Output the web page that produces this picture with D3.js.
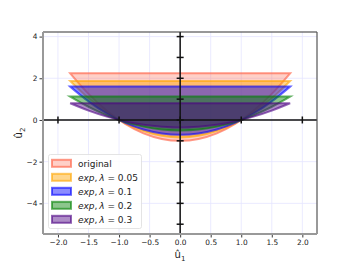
<!DOCTYPE html>
<html>
<head>
<meta charset="utf-8">
<script src="https://cdn.jsdelivr.net/npm/d3@7"></script>
<style>
  body { margin: 0; background: #fff; }
  text { font-family: 'DejaVu Sans', sans-serif; }
</style>
</head>
<body>
<div id="chart"></div>
<script>
// sample positions along u1
const u1 = [-1.8, -1.5, -1.2, -0.9, -0.6, -0.3, 0, 0.3, 0.6, 0.9, 1.2, 1.5, 1.8]

// lower boundary of each region, u2 at the u1 positions above
const original = [2.24, 1.25, 0.44, -0.19, -0.64, -0.91, -1.0, -0.91, -0.64, -0.19, 0.44, 1.25, 2.24]
const exp005 = [1.87, 1.04, 0.37, -0.16, -0.53, -0.76, -0.835, -0.76, -0.53, -0.16, 0.37, 1.04, 1.87]
const exp01 = [1.6, 0.89, 0.31, -0.14, -0.46, -0.65, -0.71, -0.65, -0.46, -0.14, 0.31, 0.89, 1.6]
const exp02 = [1.12, 0.63, 0.22, -0.1, -0.32, -0.46, -0.5, -0.46, -0.32, -0.1, 0.22, 0.63, 1.12]
const exp03 = [0.8, 0.45, 0.16, -0.07, -0.23, -0.32, -0.36, -0.32, -0.23, -0.07, 0.16, 0.45, 0.8]

const lambdas = [null, '0.05', '0.1', '0.2', '0.3']
const xTicks = [-2.0, -1.5, -1.0, -0.5, 0.0, 0.5, 1.0, 1.5, 2.0]
const yTicks = [-4, -2, 0, 2, 4]
const crossX = [-2, -1, 0, 1, 2]
const crossY = [-5, -4, -3, -2, -1, 0, 1, 2, 3, 4]

const series = [
  { values: original, color: 'tomato', alpha: 0.3, edge: 0.65 },
  { values: exp005, color: 'orange', alpha: 0.45, edge: 0.6 },
  { values: exp01, color: 'blue', alpha: 0.45, edge: 0.6 },
  { values: exp02, color: 'green', alpha: 0.45, edge: 0.6 },
  { values: exp03, color: 'indigo', alpha: 0.45, edge: 0.6 },
]

const width = 352
const height = 264
const margin = { top: 32, right: 35, bottom: 30, left: 43 }

const svg = d3.select('#chart').append('svg').attr('width', width).attr('height', height)

const x = d3.scaleLinear().domain([-2.245, 2.24]).range([margin.left, width - margin.right])
const y = d3.scaleLinear().domain([-5.47, 4.22]).range([height - margin.bottom, margin.top])

// grid
svg.append('g')
  .selectAll('line')
  .data(xTicks)
  .join('line')
  .attr('x1', (d) => x(d)).attr('x2', (d) => x(d))
  .attr('y1', margin.top).attr('y2', height - margin.bottom)
  .attr('stroke', '#e4e4ff').attr('stroke-width', 0.8)
svg.append('g')
  .selectAll('line')
  .data(yTicks)
  .join('line')
  .attr('x1', margin.left).attr('x2', width - margin.right)
  .attr('y1', (d) => y(d)).attr('y2', (d) => y(d))
  .attr('stroke', '#e4e4ff').attr('stroke-width', 0.8)

// filled regions
const area = d3.area()
  .x((d) => x(d[0]))
  .y0((d) => y(d[2]))
  .y1((d) => y(d[1]))
  .curve(d3.curveNatural)

series.forEach((s) => {
  const top = d3.max(s.values)
  const pts = u1.map((v, i) => [v, s.values[i], top])
  svg.append('path')
    .datum(pts)
    .attr('d', area)
    .attr('fill', s.color)
    .attr('fill-opacity', s.alpha)
    .attr('stroke', s.color)
    .attr('stroke-opacity', s.edge)
    .attr('stroke-width', 2)
})

// cross through the origin
const cross = svg.append('g').attr('stroke', '#111').attr('stroke-width', 1.5)
cross.append('line')
  .attr('x1', margin.left).attr('x2', width - margin.right)
  .attr('y1', y(0)).attr('y2', y(0))
cross.append('line')
  .attr('x1', x(0)).attr('x2', x(0))
  .attr('y1', margin.top).attr('y2', height - margin.bottom)
cross.selectAll('.cx')
  .data(crossX)
  .join('line')
  .attr('x1', (d) => x(d)).attr('x2', (d) => x(d))
  .attr('y1', y(0) - 3.5).attr('y2', y(0) + 3.5)
cross.selectAll('.cy')
  .data(crossY)
  .join('line')
  .attr('class', 'cy')
  .attr('x1', x(0) - 3.5).attr('x2', x(0) + 3.5)
  .attr('y1', (d) => y(d)).attr('y2', (d) => y(d))

// axes
svg.append('g')
  .attr('transform', `translate(0,${height - margin.bottom})`)
  .call(d3.axisBottom(x).tickValues(xTicks).tickFormat((d) => d3.format('.1f')(d).replace('-', '\u2212')).tickSize(3.5).tickPadding(2))
svg.append('g')
  .attr('transform', `translate(${margin.left},0)`)
  .call(d3.axisLeft(y).tickValues(yTicks).tickFormat((d) => String(d).replace('-', '\u2212')).tickSize(3.5).tickPadding(2))

svg.selectAll('.domain').remove()
svg.selectAll('.tick text').style('font-size', '7.4px').attr('fill', '#222')
svg.selectAll('.tick line').attr('stroke', '#222').attr('stroke-width', 0.9)

// spines
const spines = svg.append('g').attr('fill', 'none')
spines.append('line')
  .attr('x1', margin.left).attr('x2', width - margin.right)
  .attr('y1', margin.top).attr('y2', margin.top)
  .attr('stroke', '#333').attr('stroke-width', 1.2)
spines.append('line')
  .attr('x1', width - margin.right).attr('x2', width - margin.right)
  .attr('y1', margin.top).attr('y2', height - margin.bottom)
  .attr('stroke', '#555').attr('stroke-width', 1.2)
spines.append('line')
  .attr('x1', margin.left).attr('x2', margin.left)
  .attr('y1', margin.top).attr('y2', height - margin.bottom)
  .attr('stroke', '#999').attr('stroke-width', 2)
spines.append('line')
  .attr('x1', margin.left).attr('x2', width - margin.right)
  .attr('y1', height - margin.bottom).attr('y2', height - margin.bottom)
  .attr('stroke', '#999').attr('stroke-width', 2)

// axis labels
const xl = svg.append('text')
  .attr('x', (margin.left + width - margin.right) / 2)
  .attr('y', 258)
  .attr('text-anchor', 'middle')
  .style('font-size', '10px')
  .attr('fill', '#222')
xl.append('tspan').text('\u00fb')
xl.append('tspan').attr('dy', 2.5).style('font-size', '7px').text('1')

const yl = svg.append('text')
  .attr('transform', `translate(22,${(margin.top + height - margin.bottom) / 2}) rotate(-90)`)
  .attr('text-anchor', 'middle')
  .style('font-size', '10px')
  .attr('fill', '#222')
yl.append('tspan').text('\u00fb')
yl.append('tspan').attr('dy', 2.5).style('font-size', '7px').text('2')

// legend
const legend = svg.append('g')
legend.append('rect')
  .attr('x', 48.5).attr('y', 154.5).attr('width', 93).attr('height', 74).attr('rx', 2)
  .attr('fill', '#fff').attr('fill-opacity', 0.85)
  .attr('stroke', '#ddd').attr('stroke-width', 0.8)

series.forEach((s, i) => {
  const cy = 163.3 + i * 14
  legend.append('rect')
    .attr('x', 52).attr('y', cy - 3.5).attr('width', 19).attr('height', 7)
    .attr('fill', s.color).attr('fill-opacity', s.alpha)
    .attr('stroke', s.color).attr('stroke-opacity', s.edge).attr('stroke-width', 2)
  const t = legend.append('text')
    .attr('x', 78).attr('y', cy + 3.2)
    .style('font-size', '9px')
    .attr('fill', '#222')
  if (lambdas[i] === null) {
    t.text('original')
  } else {
    t.append('tspan').style('font-style', 'italic').text('exp')
    t.append('tspan').text(',\u2009')
    t.append('tspan').style('font-style', 'italic').text('\u03bb')
    t.append('tspan').text(' = ' + lambdas[i])
  }
})
</script>
</body>
</html>
